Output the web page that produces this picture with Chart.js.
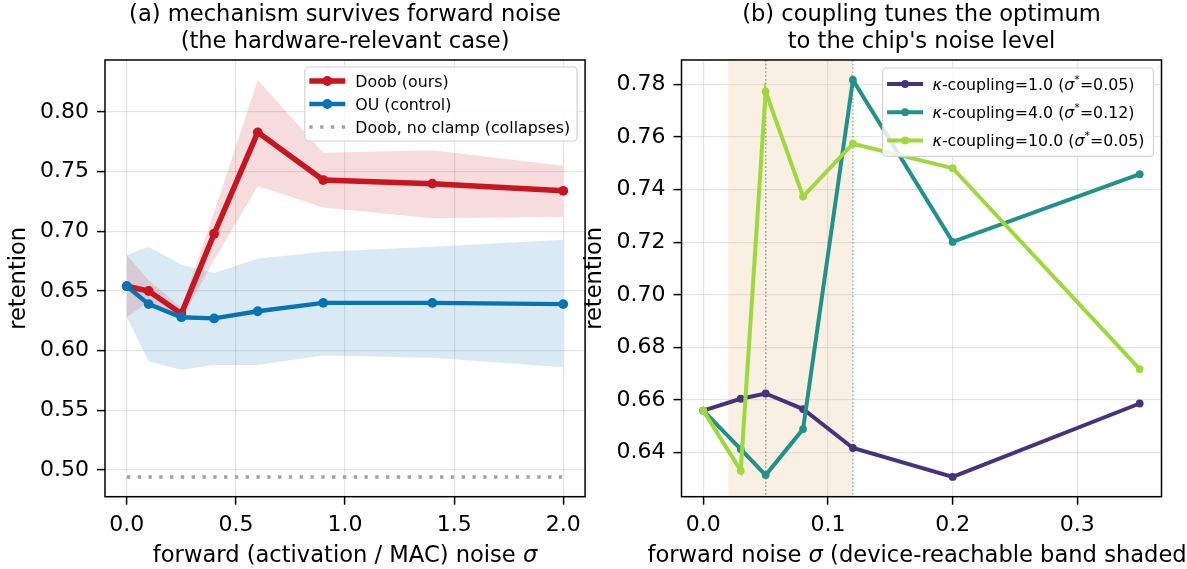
<!DOCTYPE html>
<html><head><meta charset="utf-8">
<script src="https://cdn.jsdelivr.net/npm/chart.js@4.4.1/dist/chart.umd.min.js"></script>
<style>
html,body{margin:0;padding:0;background:#fff;}
#wrap{position:relative;width:1187px;height:569px;overflow:hidden;background:#fff;}
canvas{position:absolute;top:0;}
</style></head><body>
<div id="wrap">
<canvas id="ca" width="600" height="569" style="left:0;width:600px;height:569px"></canvas>
<canvas id="cb" width="611" height="569" style="left:576px;width:611px;height:569px"></canvas>
</div>
<script>
// ---------- data: panel (a) ----------
const sigmaA   = [0, 0.1, 0.25, 0.4, 0.6, 0.9, 1.4, 2.0];
const doobMean = [0.654, 0.650, 0.631, 0.698, 0.783, 0.743, 0.740, 0.734];
const doobLo   = [0.628, 0.641, 0.626, 0.676, 0.738, 0.720, 0.711, 0.712];
const doobHi   = [0.680, 0.659, 0.636, 0.716, 0.827, 0.766, 0.768, 0.755];
const ouMean   = [0.654, 0.639, 0.628, 0.627, 0.633, 0.640, 0.640, 0.639];
const ouLo     = [0.628, 0.591, 0.584, 0.588, 0.588, 0.596, 0.594, 0.586];
const ouHi     = [0.680, 0.687, 0.672, 0.665, 0.677, 0.683, 0.687, 0.693];
const noClamp  = [0.494, 0.494, 0.494, 0.494, 0.494, 0.494, 0.494, 0.494];
const labelsA  = ['Doob (ours)', 'OU (control)', 'Doob, no clamp (collapses)'];
const xTicksA  = [0, 0.5, 1.0, 1.5, 2.0];
const yTicksA  = [0.50, 0.55, 0.60, 0.65, 0.70, 0.75, 0.80];
const xLimA    = [-0.1, 2.1];
const yLimA    = [0.4775, 0.8437];
const titleA   = ['(a) mechanism survives forward noise', '(the hardware-relevant case)'];
const xLabelA  = 'forward (activation / MAC) noise σ';

// ---------- data: panel (b) ----------
const sigmaB   = [0, 0.03, 0.05, 0.08, 0.12, 0.2, 0.35];
const kappas   = [1.0, 4.0, 10.0];
const sigStar  = [0.05, 0.12, 0.05];
const retK1    = [0.6560, 0.6605, 0.6625, 0.6566, 0.6418, 0.6308, 0.6587];
const retK4    = [0.6560, 0.6414, 0.6315, 0.6490, 0.7816, 0.7201, 0.7458];
const retK10   = [0.6560, 0.6332, 0.7772, 0.7373, 0.7574, 0.7481, 0.6718];
const bandB    = [0.02, 0.12];
const xTicksB  = [0, 0.1, 0.2, 0.3];
const yTicksB  = [0.64, 0.66, 0.68, 0.70, 0.72, 0.74, 0.76, 0.78];
const xLimB    = [-0.0175, 0.3675];
const yLimB    = [0.6233, 0.7892];
const titleB   = ['(b) coupling tunes the optimum', "to the chip's noise level"];
const xLabelB  = 'forward noise σ (device-reachable band shaded)';

// ---------- styling ----------
const FONT = 'DejaVu Sans';
Chart.defaults.font.family = FONT;
Chart.defaults.color = '#000';
const RED = '#c8151f', BLUE = '#0873b4', GRAYD = '#a3a3a3';
const RED_BAND = 'rgba(200,21,31,0.15)', BLUE_BAND = 'rgba(8,115,180,0.15)';
const VIR = ['#46337e', '#21918c', '#9dd93b'];
const GRID = 'rgba(0,0,0,0.10)';
const LBL = 22.6;

const pts = (xs, ys) => xs.map((x, i) => ({x, y: ys[i]}));

// rich text (italic greek, superscript *)
function segs(text){
  const out=[];
  for(let i=0;i<text.length;i++){
    const c=text[i]; let st='n';
    if(c==='κ'||c==='σ') st='i'; else if(c==='*'&&text[i-1]==='σ') st='s';
    const l=out[out.length-1];
    if(l&&l.st===st) l.t+=c; else out.push({t:c,st});
  }
  return out;
}
function fnt(st,size){
  if(st==='i') return `italic ${size}px "${FONT}"`;
  if(st==='s') return `${(size*0.7).toFixed(2)}px "${FONT}"`;
  return `${size}px "${FONT}"`;
}
function richW(ctx,text,size){let w=0;for(const s of segs(text)){ctx.font=fnt(s.st,size);w+=ctx.measureText(s.t).width;}return w;}
function drawRich(ctx,text,x,y,size,center){
  let cx = center ? x - richW(ctx,text,size)/2 : x;
  ctx.textBaseline='alphabetic'; ctx.textAlign='left';
  for(const s of segs(text)){
    ctx.font=fnt(s.st,size);
    ctx.fillText(s.t,cx,s.st==='s'? y-size*0.42 : y);
    cx+=ctx.measureText(s.t).width;
  }
}

// ---------- plugins ----------
const spines = {
  id:'spines',
  afterDatasetsDraw(chart){
    const {ctx, chartArea:a} = chart;
    ctx.save(); ctx.strokeStyle='#000'; ctx.lineWidth=1.5;
    ctx.strokeRect(a.left, a.top, a.right-a.left, a.bottom-a.top);
    ctx.restore();
  }
};
const xTitle = {
  id:'xTitle',
  afterDraw(chart,args,o){
    const {ctx, chartArea:a} = chart;
    ctx.save(); ctx.fillStyle='#000';
    drawRich(ctx, o.text, (a.left+a.right)/2, o.y, o.size, true);
    ctx.restore();
  }
};
const boxLegend = {
  id:'boxLegend',
  afterDatasetsDraw(chart,args,o){
    const {ctx, chartArea:a} = chart;
    const items = chart.data.datasets.filter(d=>d.label);
    ctx.save();
    const tw = Math.max(...items.map(d=>richW(ctx,d.label,o.size)));
    const w = o.textX + tw + o.padR;
    const h = 2*o.firstY + (items.length-1)*o.rowH;
    const x0 = a.right - o.right - w, y0 = a.top + o.top;
    ctx.beginPath(); ctx.roundRect(x0, y0, w, h, 4);
    ctx.fillStyle='rgba(255,255,255,0.82)'; ctx.fill();
    ctx.strokeStyle='#d2d2d2'; ctx.lineWidth=1.2; ctx.stroke();
    items.forEach((d,i)=>{
      const cy = y0 + o.firstY + i*o.rowH;
      ctx.strokeStyle=d.borderColor; ctx.lineWidth=d.borderWidth;
      ctx.setLineDash(d.borderDash||[]); ctx.lineCap='butt';
      ctx.beginPath(); ctx.moveTo(x0+o.sx, cy); ctx.lineTo(x0+o.sx+o.sl, cy); ctx.stroke();
      ctx.setLineDash([]);
      if(d.pointRadius>0){
        ctx.fillStyle=d.borderColor; ctx.beginPath();
        ctx.arc(x0+o.sx+o.sl/2, cy, d.pointRadius, 0, Math.PI*2); ctx.fill();
      }
      ctx.fillStyle='#000';
      drawRich(ctx, d.label, x0+o.textX, cy+o.size*0.36, o.size, false);
    });
    ctx.restore();
  }
};
const bandPlugin = {
  id:'bandPlugin',
  beforeDatasetsDraw(chart,args,o){
    if(!o.band) return;
    const {ctx, chartArea:a, scales:{x}} = chart;
    ctx.save();
    const l=x.getPixelForValue(o.band[0]), r=x.getPixelForValue(o.band[1]);
    ctx.fillStyle='rgba(228,160,90,0.17)';
    ctx.fillRect(l, a.top, r-l, a.bottom-a.top);
    ctx.lineWidth=1.3; ctx.setLineDash([1.4,2.4]);
    o.vlines.forEach((v,i)=>{
      const px=x.getPixelForValue(v);
      ctx.strokeStyle=o.colors[i]; ctx.globalAlpha=0.7;
      ctx.beginPath(); ctx.moveTo(px,a.top); ctx.lineTo(px,a.bottom); ctx.stroke();
    });
    ctx.restore();
  }
};

function scale(lim, ticks, dec, fit, pad, title){
  return {
    type:'linear', min:lim[0], max:lim[1],
    afterBuildTicks: s => { s.ticks = ticks.map(v=>({value:v})); },
    afterFit: fit,
    ticks:{callback:v=>Number(v).toFixed(dec), font:{size:22}, color:'#000', padding:pad, autoSkip:false, maxRotation:0},
    grid:{color:GRID, lineWidth:1.2, tickLength:8, tickColor:'#000', tickWidth:1.5, drawTicks:true},
    border:{display:false},
    title: title || {display:false}
  };
}

function common(title, xLim, xTicks, yLim, yTicks, areaLeft, padRight, xLabel, legendOpts, bandOpts){
  return {
    responsive:false, animation:false, events:[],
    devicePixelRatio:1,
    layout:{padding:{left:0, right:padRight, top:0, bottom:0}},
    plugins:{
      legend:{display:false}, tooltip:{enabled:false},
      title:{display:true, fullSize:false, text:title, color:'#000', font:{size:LBL, weight:'normal', lineHeight:1.17}, padding:{top:2, bottom:5.1}},
      xTitle:{text:xLabel, y:562, size:LBL},
      boxLegend:legendOpts,
      bandPlugin:bandOpts||{}
    },
    scales:{
      x: scale(xLim, xTicks, 1, s=>{s.height=72.3;}, 7),
      y: scale(yLim, yTicks, 2, s=>{s.width=areaLeft;}, 8,
        {display:true, text:'retention', color:'#000', font:{size:LBL, lineHeight:1.2}, padding:{top:5.6, bottom:0}})
    }
  };
}

// ---------- chart (a) ----------
new Chart(document.getElementById('ca'), {
  type:'line',
  data:{datasets:[
    {label:labelsA[0], data:pts(sigmaA,doobMean), borderColor:RED, backgroundColor:RED, borderWidth:5.5, pointRadius:4.9, pointBorderWidth:0, pointBackgroundColor:RED, fill:false, order:1, tension:0},
    {label:labelsA[1], data:pts(sigmaA,ouMean), borderColor:BLUE, backgroundColor:BLUE, borderWidth:4.4, pointRadius:4.9, pointBorderWidth:0, pointBackgroundColor:BLUE, fill:false, order:0, tension:0},
    {label:labelsA[2], data:pts(sigmaA,noClamp), borderColor:GRAYD, borderWidth:3.4, borderDash:[3.4,7.4], borderCapStyle:'butt', pointRadius:0, fill:false, order:2},
    {data:pts(sigmaA,doobHi), borderColor:'transparent', borderWidth:0, pointRadius:0, backgroundColor:RED_BAND, fill:4, order:3},
    {data:pts(sigmaA,doobLo), borderColor:'transparent', borderWidth:0, pointRadius:0, fill:false, order:3},
    {data:pts(sigmaA,ouHi), borderColor:'transparent', borderWidth:0, pointRadius:0, backgroundColor:BLUE_BAND, fill:6, order:4},
    {data:pts(sigmaA,ouLo), borderColor:'transparent', borderWidth:0, pointRadius:0, fill:false, order:4}
  ]},
  options: common(titleA, xLimA, xTicksA, yLimA, yTicksA, 105, 600-585.1, xLabelA,
    {size:15.8, firstY:14, rowH:23, top:7, right:8, sx:4.5, sl:36, textX:50.5, padR:7}),
  plugins:[spines, xTitle, boxLegend, bandPlugin]
});

// ---------- chart (b) ----------
const retB = [retK1, retK4, retK10];
new Chart(document.getElementById('cb'), {
  type:'line',
  data:{datasets: retB.map((r,i)=>({
    label:`κ-coupling=${kappas[i].toFixed(1)} (σ*=${sigStar[i].toFixed(2)})`,
    data:pts(sigmaB,r), borderColor:VIR[i], backgroundColor:VIR[i], borderWidth:4,
    pointRadius:3.9, pointBorderWidth:0, pointBackgroundColor:VIR[i], fill:false, order:2-i, tension:0
  }))},
  options: common(titleB, xLimB, xTicksB, yLimB, yTicksB, 105.5, 611-585.5, xLabelB,
    {size:15.8, firstY:16, rowH:28.2, top:8, right:8, sx:4.5, sl:36, textX:50, padR:9},
    {band:bandB, vlines:sigStar, colors:VIR}),
  plugins:[spines, xTitle, boxLegend, bandPlugin]
});
</script>
</body></html>
